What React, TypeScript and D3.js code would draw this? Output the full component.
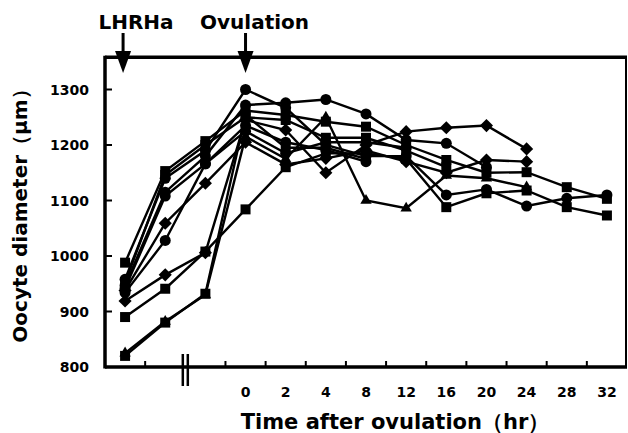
import React from "react";
import * as d3 from "d3";

// Category axis: three pre-ovulation samples (after LHRHa injection), then hours after ovulation
const xLabels = ["", "", "", "0", "2", "4", "8", "12", "16", "20", "24", "28", "32"];
const yTicks = [800, 900, 1000, 1100, 1200, 1300];

// Oocyte diameter (µm) of each female, one value per sampling time (null = not sampled)
const fishA = [988, 1153, 1207, 1262, 1254, 1242, 1233, 1200, 1173, 1150, 1151, 1124, 1103];
const fishB = [958, 1140, 1190, 1300, 1267, 1200, 1180, 1180, 1110, 1120, 1090, 1104, 1110];
const fishC = [952, 1146, 1200, 1250, 1245, 1213, 1213, 1190, 1160, null, null, null, null];
const fishD = [947, 1115, 1180, 1272, 1276, 1282, 1256, 1209, 1203, 1160, null, null, null];
const fishE = [942, 1108, 1166, 1235, 1205, 1191, 1170, null, null, null, null, null, null];
const fishF = [938, 1059, 1131, 1205, 1165, 1176, 1190, 1170, 1150, 1173, 1170, null, null];
const fishG = [934, 1028, 1166, 1225, 1185, 1205, 1205, 1195, null, null, null, null, null];
const fishH = [919, 966, 1006, 1245, 1227, 1150, 1200, 1224, 1231, 1235, 1193, null, null];
const fishI = [890, 941, 1008, 1084, 1160, 1185, 1185, 1175, 1088, 1113, 1118, 1088, 1073];
const fishJ = [825, 882, 930, 1215, 1175, 1250, 1100, 1086, 1145, 1140, 1124, null, null];
const fishK = [820, 880, 932, 1254, 1195, 1195, 1175, null, null, null, null, null, null];

type Marker = "square" | "circle" | "diamond" | "triangle";
const series: { id: string; marker: Marker; values: (number | null)[] }[] = [
  { id: "A", marker: "square", values: fishA },
  { id: "B", marker: "circle", values: fishB },
  { id: "C", marker: "square", values: fishC },
  { id: "D", marker: "circle", values: fishD },
  { id: "E", marker: "circle", values: fishE },
  { id: "F", marker: "diamond", values: fishF },
  { id: "G", marker: "circle", values: fishG },
  { id: "H", marker: "diamond", values: fishH },
  { id: "I", marker: "square", values: fishI },
  { id: "J", marker: "triangle", values: fishJ },
  { id: "K", marker: "square", values: fishK },
];

const W = 628;
const H = 433;
const plotLeft = 105;
const plotRight = 627;
const frameTopValue = 1358;
const font = "'DejaVu Sans', Verdana, sans-serif";

const symbolPaths: Record<Marker, string> = {
  square: d3.symbol(d3.symbolSquare, 100)() as string,
  circle: d3.symbol(d3.symbolCircle, 95)() as string,
  diamond: d3.symbol(d3.symbolSquare, 86)() as string,
  triangle: d3.symbol(d3.symbolTriangle, 56)() as string,
};

function Arrow({ x, y0, y1 }: { x: number; y0: number; y1: number }) {
  const headLen = 22;
  const headHalf = 8;
  return (
    <g>
      <line x1={x} x2={x} y1={y0} y2={y1 - headLen + 2} stroke="#000" strokeWidth={3} />
      <path d={`M${x - headHalf},${y1 - headLen} L${x + headHalf},${y1 - headLen} L${x},${y1} Z`} fill="#000" />
    </g>
  );
}

export default function App() {
  const x = d3
    .scaleBand<number>()
    .domain(d3.range(xLabels.length))
    .range([plotLeft, plotRight])
    .paddingInner(0)
    .paddingOuter(0);
  const bw = x.bandwidth();
  const cx = (i: number) => (x(i) as number) + bw / 2;
  const y = d3.scaleLinear().domain([800, 1300]).range([367, 89.5]);
  const yBottom = y(800);
  const yTop = y(frameTopValue);

  const line = d3
    .line<number | null>()
    .defined((v) => v != null)
    .x((_, i) => cx(i))
    .y((v) => y(v as number));

  const breakX = x(2) as number;
  const tickIdx = d3.range(1, xLabels.length).filter((i) => i !== 2);

  return (
    <div style={{ position: "fixed", left: 0, top: 0 }}>
      <svg width={W} height={H} style={{ display: "block", background: "#fff" }}>
        {/* frame */}
        <line x1={plotLeft} x2={plotRight} y1={yTop} y2={yTop} stroke="#000" strokeWidth={3.5} />
        <line x1={plotRight - 1} x2={plotRight - 1} y1={yTop} y2={yBottom} stroke="#000" strokeWidth={2} />
        <line x1={plotLeft} x2={plotLeft} y1={yTop - 1.5} y2={yBottom + 1.5} stroke="#000" strokeWidth={3.5} />
        <line x1={plotLeft} x2={plotRight} y1={yBottom} y2={yBottom} stroke="#000" strokeWidth={3.5} />

        {/* y ticks and labels */}
        {yTicks.map((t) => (
          <g key={t}>
            <line x1={plotLeft} x2={plotLeft + 7} y1={y(t)} y2={y(t)} stroke="#000" strokeWidth={2} />
            <text
              x={89}
              y={y(t)}
              textAnchor="end"
              dominantBaseline="central"
              fontFamily={font}
              fontWeight="bold"
              fontSize={14}
            >
              {t}
            </text>
          </g>
        ))}

        {/* x ticks between categories */}
        {tickIdx.map((i) => (
          <line
            key={i}
            x1={x(i) as number}
            x2={x(i) as number}
            y1={yBottom}
            y2={yBottom - 6}
            stroke="#000"
            strokeWidth={2}
          />
        ))}
        {/* axis break */}
        <line x1={breakX - 2.5} x2={breakX - 2.5} y1={yBottom - 13} y2={yBottom + 19} stroke="#000" strokeWidth={2.5} />
        <line x1={breakX + 2.5} x2={breakX + 2.5} y1={yBottom - 13} y2={yBottom + 19} stroke="#000" strokeWidth={2.5} />

        {xLabels.map((lab, i) =>
          lab ? (
            <text
              key={i}
              x={cx(i)}
              y={392}
              textAnchor="middle"
              dominantBaseline="central"
              fontFamily={font}
              fontWeight="bold"
              fontSize={14}
            >
              {lab}
            </text>
          ) : null
        )}

        {/* series lines */}
        {series.map((s) => (
          <path key={s.id} d={line(s.values) || ""} fill="none" stroke="#000" strokeWidth={2.4} />
        ))}
        {/* series markers */}
        {series.map((s) =>
          s.values.map((v, i) =>
            v == null ? null : (
              <path
                key={`${s.id}-${i}`}
                d={symbolPaths[s.marker]}
                transform={`translate(${cx(i)},${y(v)})${s.marker === "diamond" ? " rotate(45)" : ""}`}
                fill="#000"
              />
            )
          )
        )}

        {/* event annotations */}
        <text x={136} y={22} textAnchor="middle" dominantBaseline="central" fontFamily={font} fontWeight="bold" fontSize={20}>
          LHRHa
        </text>
        <Arrow x={cx(0) - 2} y0={33} y1={73} />
        <text x={cx(3) + 9} y={22} textAnchor="middle" dominantBaseline="central" fontFamily={font} fontWeight="bold" fontSize={20}>
          Ovulation
        </text>
        <Arrow x={cx(3)} y0={33} y1={73} />

        {/* axis titles */}
        <text x={395} y={422} textAnchor="middle" dominantBaseline="central" fontFamily={font} fontWeight="bold" fontSize={21}>
          Time after ovulation（hr）
        </text>
        <text
          transform="translate(20,211) rotate(-90)"
          textAnchor="middle"
          dominantBaseline="central"
          fontFamily={font}
          fontWeight="bold"
          fontSize={20}
        >
          Oocyte diameter（μm）
        </text>
      </svg>
    </div>
  );
}
